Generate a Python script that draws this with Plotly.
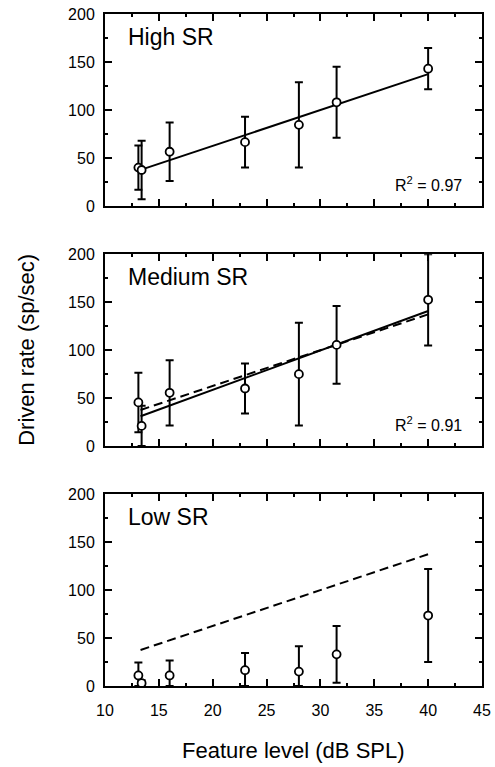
import plotly.graph_objects as go

# ---- data ----
levels = [13.1, 13.4, 16.0, 23.0, 28.0, 31.5, 40.0]

high_rate = [40, 37.5, 56.5, 66.5, 84.5, 108, 143]
high_err_plus = [23, 30.5, 30.5, 26.5, 44.5, 37, 21.5]
high_err_minus = [23, 30.5, 30.5, 26.5, 44.5, 37, 21.5]

med_rate = [45.5, 21, 55.5, 60, 75, 105.5, 152.5]
med_err_plus = [31, 21, 34, 26, 53.5, 40.5, 47.5]
med_err_minus = [31, 21, 34, 26, 53.5, 40.5, 47.5]

low_rate = [11, 3, 11, 16.5, 15, 33, 73.5]
low_err_plus = [13.5, 3, 15.5, 18, 26.5, 29.5, 48.5]
low_err_minus = [11, 3, 11, 16.5, 15, 29.5, 48.5]

fit_x = [13.3, 40.0]
high_fit = [37.6, 137.4]
med_fit = [31.1, 140.9]

panel_names = ["High SR", "Medium SR", "Low SR"]
r2_labels = ["R<sup>2</sup> = 0.97", "R<sup>2</sup> = 0.91", None]

x_ticks = [10, 15, 20, 25, 30, 35, 40, 45]
y_ticks = [0, 50, 100, 150, 200]

FONT = "Liberation Sans, Arial, Helvetica, sans-serif"

fig = go.Figure()

def add_points(rate, ep, em, idx):
    fig.add_trace(go.Scatter(
        x=levels, y=rate, mode="markers",
        marker=dict(symbol="circle", size=8, color="white",
                    line=dict(color="black", width=1.8)),
        error_y=dict(type="data", symmetric=False, array=ep, arrayminus=em,
                     color="black", thickness=2, width=4),
        xaxis=f"x{idx}" if idx > 1 else "x", yaxis=f"y{idx}" if idx > 1 else "y",
        showlegend=False, cliponaxis=False))

def add_line(y, idx, dash):
    fig.add_trace(go.Scatter(
        x=fit_x, y=y, mode="lines",
        line=dict(color="black", width=2, dash=dash),
        xaxis=f"x{idx}" if idx > 1 else "x", yaxis=f"y{idx}" if idx > 1 else "y",
        showlegend=False, hoverinfo="skip"))

# panel 1: high SR
add_line(high_fit, 1, "solid")
add_points(high_rate, high_err_plus, high_err_minus, 1)
# panel 2: medium SR
add_line(high_fit, 2, "9px,5px")
add_line(med_fit, 2, "solid")
add_points(med_rate, med_err_plus, med_err_minus, 2)
# panel 3: low SR
add_line(high_fit, 3, "9px,5px")
add_points(low_rate, low_err_plus, low_err_minus, 3)

domains = [[0.7143, 1.0], [0.3571, 0.6424], [0.0, 0.2853]]

layout = dict(
    width=495, height=767,
    margin=dict(l=105, r=4, t=14, b=81),
    paper_bgcolor="white", plot_bgcolor="white",
    font=dict(family=FONT, color="black", size=16),
)

for i in range(3):
    idx = i + 1
    xk = "xaxis" if idx == 1 else f"xaxis{idx}"
    yk = "yaxis" if idx == 1 else f"yaxis{idx}"
    layout[xk] = dict(
        range=[10, 45], tickvals=x_ticks, ticktext=[str(v) for v in x_ticks],
        showticklabels=(idx == 3), ticks="inside", ticklen=7, tickwidth=1.5,
        tickcolor="black", showline=True, linecolor="black", linewidth=2,
        mirror="ticks", showgrid=False, zeroline=False,
        minor=dict(dtick=2.5, tick0=10, ticks="inside", ticklen=3, tickwidth=1.5,
                   tickcolor="black", showgrid=False),
        anchor="y" if idx == 1 else f"y{idx}",
        tickfont=dict(size=16, family=FONT), ticklabelstandoff=9,
        ticklabeloverflow="allow",
        fixedrange=True,
    )
    layout[yk] = dict(
        range=[0, 200], tickvals=y_ticks, ticktext=[str(v) for v in y_ticks],
        domain=domains[i], ticks="inside", ticklen=7, tickwidth=1.5,
        tickcolor="black", showline=True, linecolor="black", linewidth=2,
        mirror="ticks", showgrid=False, zeroline=False,
        minor=dict(dtick=25, tick0=0, ticks="inside", ticklen=3, tickwidth=1.5,
                   tickcolor="black", showgrid=False),
        anchor="x" if idx == 1 else f"x{idx}",
        tickfont=dict(size=16, family=FONT), ticklabelstandoff=5,
        ticklabeloverflow="allow",
        fixedrange=True,
    )

fig.update_layout(**layout)

ann = []
for i in range(3):
    idx = i + 1
    xr = "x domain" if idx == 1 else f"x{idx} domain"
    yr = "y domain" if idx == 1 else f"y{idx} domain"
    ann.append(dict(text=panel_names[i], xref=xr, yref=yr, x=0.057, y=0.88,
                    xanchor="left", yanchor="middle", showarrow=False,
                    font=dict(size=23, family=FONT, color="black")))
    if r2_labels[i]:
        ann.append(dict(text=r2_labels[i], xref=xr, yref=yr, x=0.953, y=0.115,
                        xanchor="right", yanchor="middle", showarrow=False,
                        font=dict(size=16, family=FONT, color="black")))

ann.append(dict(text="Driven rate (sp/sec)", xref="paper", yref="paper",
                x=-0.21, y=0.5, textangle=-90, xanchor="center", yanchor="middle",
                showarrow=False, font=dict(size=22, family=FONT, color="black")))
ann.append(dict(text="Feature level (dB SPL)", xref="paper", yref="paper",
                x=0.5, y=-0.0957, xanchor="center", yanchor="middle",
                showarrow=False, font=dict(size=22, family=FONT, color="black")))

fig.update_layout(annotations=ann)

fig.write_html("out.html")
